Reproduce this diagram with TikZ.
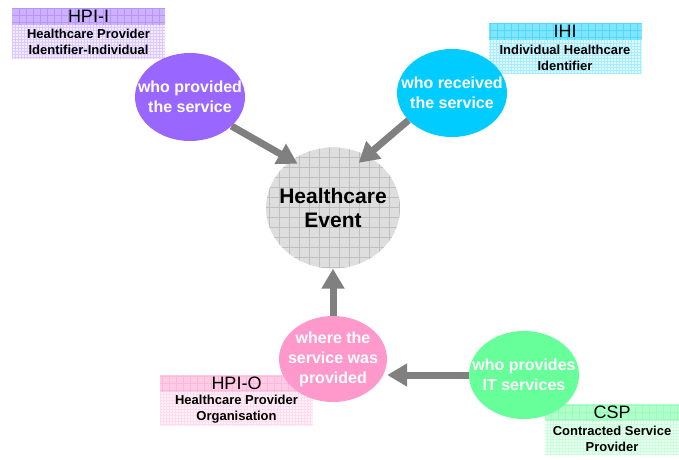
\documentclass[tikz,border=0pt]{standalone}
\usepackage{fontspec}
\setmainfont{Liberation Sans}
\usetikzlibrary{shapes.geometric}
\usetikzlibrary{arrows.meta}
\usetikzlibrary{positioning}

\definecolor{provpurple}{RGB}{153,102,255}
\definecolor{recvcyan}{RGB}{0,204,255}
\definecolor{orgpink}{RGB}{255,153,204}
\definecolor{itgreen}{RGB}{102,255,153}
\definecolor{arrgray}{RGB}{128,128,128}

\tikzset{
  gridfill/.style 2 args={path picture={\draw[#1, line width=.4pt, step=#2]
      (path picture bounding box.south west) grid (path picture bounding box.north east);}},
  bubble/.style={ellipse, inner xsep=-30pt, inner ysep=-15pt, minimum width=110pt, minimum height=88pt,
      fill=#1, text=white, align=center, font=\bfseries\fontsize{16}{20}\selectfont},
  event/.style={ellipse, inner xsep=-30pt, inner ysep=-15pt, minimum width=134pt, minimum height=121pt,
      fill=black!13, gridfill={black!25}{10pt}, align=center,
      font=\bfseries\fontsize{21}{24}\selectfont},
  tag/.style={rectangle, inner sep=0pt, minimum width=153pt, minimum height=17pt,
      fill=#1!50, gridfill={#1!70}{7pt}, font=\fontsize{18}{18}\selectfont},
  tagtext/.style={rectangle, inner sep=0pt, minimum width=153pt, minimum height=34pt,
      fill=#1!12, gridfill={#1!35}{3pt}, align=center,
      font=\bfseries\fontsize{13}{16}\selectfont},
  arr/.style={draw=arrgray, line width=7pt, -{Triangle[width=22pt,length=20pt]}}
}

\begin{document}
\begin{tikzpicture}[x=1pt, y=-1pt]
\useasboundingbox (0,0) rectangle (679,459);

% identifier labels
\node[tag=provpurple] (hpii) at (88.5,16) {HPI-I};
\node[tagtext=provpurple, below=0pt of hpii] (hpiitxt) {Healthcare Provider\\Identifier-Individual};
\node[tag=recvcyan] (ihi) at (565,31.5) {IHI};
\node[tagtext=recvcyan, below=0pt of ihi] (ihitxt) {Individual Healthcare\\Identifier};
\node[tag=orgpink] (hpio) at (236.5,383.5) {HPI-O};
\node[tagtext=orgpink, below=0pt of hpio] (hpiotxt) {Healthcare Provider\\Organisation};
\node[tag=itgreen, minimum width=134pt] (csp) at (612,412.5) {CSP};
\node[tagtext=itgreen, minimum width=134pt, below=0pt of csp] (csptxt) {Contracted Service\\Provider};

% the event and who/where
\node[event] (event) at (333,208) {Healthcare\\Event};
\node[bubble=provpurple] (provided) at (190,97) {who provided\\the service};
\node[bubble=recvcyan] (received) at (452,93) {who received\\the service};
\node[bubble=orgpink, minimum width=108pt, minimum height=86pt] (where) at (333,359) {where the\\service was\\provided};
\node[bubble=itgreen] (itsvc) at (524,375) {who provides\\IT services};

% arrows
\draw[arr, shorten >=-7pt] (provided.325) -- (event.131);
\draw[arr, shorten >=-11pt] (received.212) -- (event.57);
\draw[arr] (where.north) -- (event.south);
\draw[arr] (itsvc.west) -- (itsvc.west -| where.east);
\end{tikzpicture}
\end{document}
